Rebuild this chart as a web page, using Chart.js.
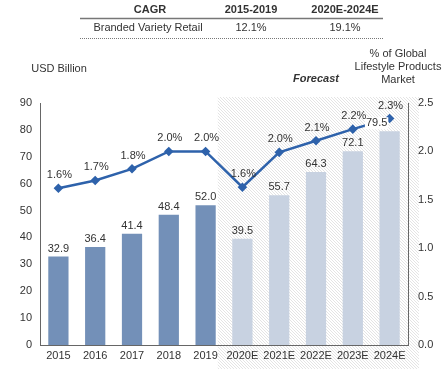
<!DOCTYPE html>
<html lang="en">
<head>
  <meta charset="UTF-8">
  <title>Branded Variety Retail</title>
  <script src="https://cdn.jsdelivr.net/npm/chart.js"></script>
  <style>
    html, body { margin: 0; padding: 0; background: #fff; }
    #wrap { position: relative; width: 446px; height: 377px; }
  </style>
</head>
<body>
<div id="wrap"><canvas id="chart" width="446" height="377"></canvas></div>
<script>
  // data
  const years = ['2015', '2016', '2017', '2018', '2019', '2020E', '2021E', '2022E', '2023E', '2024E'];
  const marketSize = [32.9, 36.4, 41.4, 48.4, 52.0, 39.5, 55.7, 64.3, 72.1, 79.5];
  const globalShare = [1.62, 1.70, 1.82, 2.0, 2.0, 1.63, 1.99, 2.11, 2.23, 2.34];
  const firstForecast = 5;
  const cagrHeader = ['CAGR', '2015-2019', '2020E-2024E'];
  const cagrRow = ['Branded Variety Retail', '12.1%', '19.1%'];

  const FONT = 'Liberation Sans, Arial, sans-serif';
  const TXT = '#333';
  const barColors = years.map((y, i) => i < firstForecast ? '#7390b8' : '#c8d2e1');

  // hatch pattern for forecast zone
  function makeHatch() {
    const c = document.createElement('canvas');
    c.width = 3; c.height = 3;
    const g = c.getContext('2d');
    g.fillStyle = '#fff';
    g.fillRect(0, 0, 3, 3);
    g.fillStyle = '#e4e4e4';
    g.fillRect(0, 0, 1, 1);
    g.fillRect(1, 1, 1, 1);
    g.fillRect(2, 2, 1, 1);
    return g.createPattern(c, 'repeat');
  }

  const decorations = {
    id: 'decorations',
    beforeDraw(chart) {
      const ctx = chart.ctx;
      const meta = chart.getDatasetMeta(1);
      const bar = meta.data[firstForecast - 1];
      const left = bar.x + bar.width / 2 + 2;
      ctx.save();
      ctx.fillStyle = makeHatch();
      ctx.fillRect(left, 97, 419 - left, 369 - 97);
      ctx.restore();
    },
    afterDraw(chart) {
      const ctx = chart.ctx;
      ctx.save();
      ctx.fillStyle = TXT;
      ctx.textAlign = 'center';
      ctx.textBaseline = 'middle';
      // CAGR table
      const cols = [150, 251, 345];
      ctx.font = 'bold 11px ' + FONT;
      cagrHeader.forEach((t, i) => ctx.fillText(t, cols[i], 10));
      ctx.font = '11px ' + FONT;
      cagrRow.forEach((t, i) => ctx.fillText(t, cols[i] - (i === 0 ? 2 : 0), 28));
      ctx.strokeStyle = '#777';
      ctx.lineWidth = 1.5;
      ctx.beginPath(); ctx.moveTo(80, 18.5); ctx.lineTo(383, 18.5); ctx.stroke();
      ctx.lineWidth = 1;
      ctx.setLineDash([1, 1]);
      ctx.beginPath(); ctx.moveTo(80, 38.5); ctx.lineTo(383, 38.5); ctx.stroke();
      ctx.setLineDash([]);
      // axis titles
      ctx.fillText('USD Billion', 59, 69);
      ctx.fillText('% of Global', 398, 54);
      ctx.fillText('Lifestyle Products', 398, 67);
      ctx.fillText('Market', 398, 80);
      ctx.font = 'italic bold 11px ' + FONT;
      ctx.fillText('Forecast', 316, 79);

      // bar value labels
      ctx.font = '11px ' + FONT;
      const bars = chart.getDatasetMeta(1).data;
      bars.forEach((b, i) => {
        const t = marketSize[i].toFixed(1);
        let lx = b.x;
        if (i === bars.length - 1) {
          lx = b.x - 13;
          const w = ctx.measureText(t).width;
          ctx.fillStyle = '#fff';
          ctx.fillRect(lx - w / 2 - 1, b.y - 14, w + 2, 12);
          ctx.fillStyle = TXT;
        }
        ctx.fillText(t, lx, b.y - 8);
      });
      // line value labels
      const pts = chart.getDatasetMeta(0).data;
      pts.forEach((p, i) => {
        ctx.fillText(globalShare[i].toFixed(1) + '%', p.x + 1, p.y - 13);
      });
      ctx.restore();
    }
  };

  const chart = new Chart(document.getElementById('chart'), {
    type: 'bar',
    data: {
      labels: years,
      datasets: [
        {
          type: 'line',
          data: globalShare,
          yAxisID: 'y2',
          borderColor: '#2e62ab',
          backgroundColor: '#2e62ab',
          borderWidth: 2.5,
          pointStyle: 'rectRot',
          pointRadius: 3,
          tension: 0,
          order: 0
        },
        {
          data: marketSize,
          yAxisID: 'y',
          backgroundColor: barColors,
          barPercentage: 0.55,
          categoryPercentage: 1,
          order: 1
        }
      ]
    },
    options: {
      responsive: false,
      animation: false,
      layout: { padding: { top: 103, left: 0, right: 0, bottom: 0 } },
      plugins: { legend: { display: false }, tooltip: { enabled: false } },
      scales: {
        x: {
          grid: { display: false, drawTicks: false },
          border: { color: '#666', width: 1 },
          ticks: { color: TXT, font: { family: FONT, size: 11 }, padding: 4, maxRotation: 0, autoSkip: false },
          afterFit(s) { s.height = 32; }
        },
        y: {
          position: 'left',
          min: 0, max: 90,
          grid: { display: false, drawTicks: true, tickLength: 4, tickColor: '#666' },
          border: { color: '#666', width: 1 },
          ticks: { stepSize: 10, color: TXT, font: { family: FONT, size: 11 }, padding: 4 },
          afterFit(s) { s.width = 40; }
        },
        y2: {
          position: 'right',
          min: 0, max: 2.5,
          grid: { display: false, drawTicks: true, tickLength: 4, tickColor: '#666' },
          border: { color: '#666', width: 1 },
          ticks: { stepSize: 0.5, color: TXT, font: { family: FONT, size: 11 }, padding: 6,
                   callback: v => v.toFixed(1) },
          afterFit(s) { s.width = 38; }
        }
      }
    },
    plugins: [decorations]
  });
</script>
</body>
</html>
